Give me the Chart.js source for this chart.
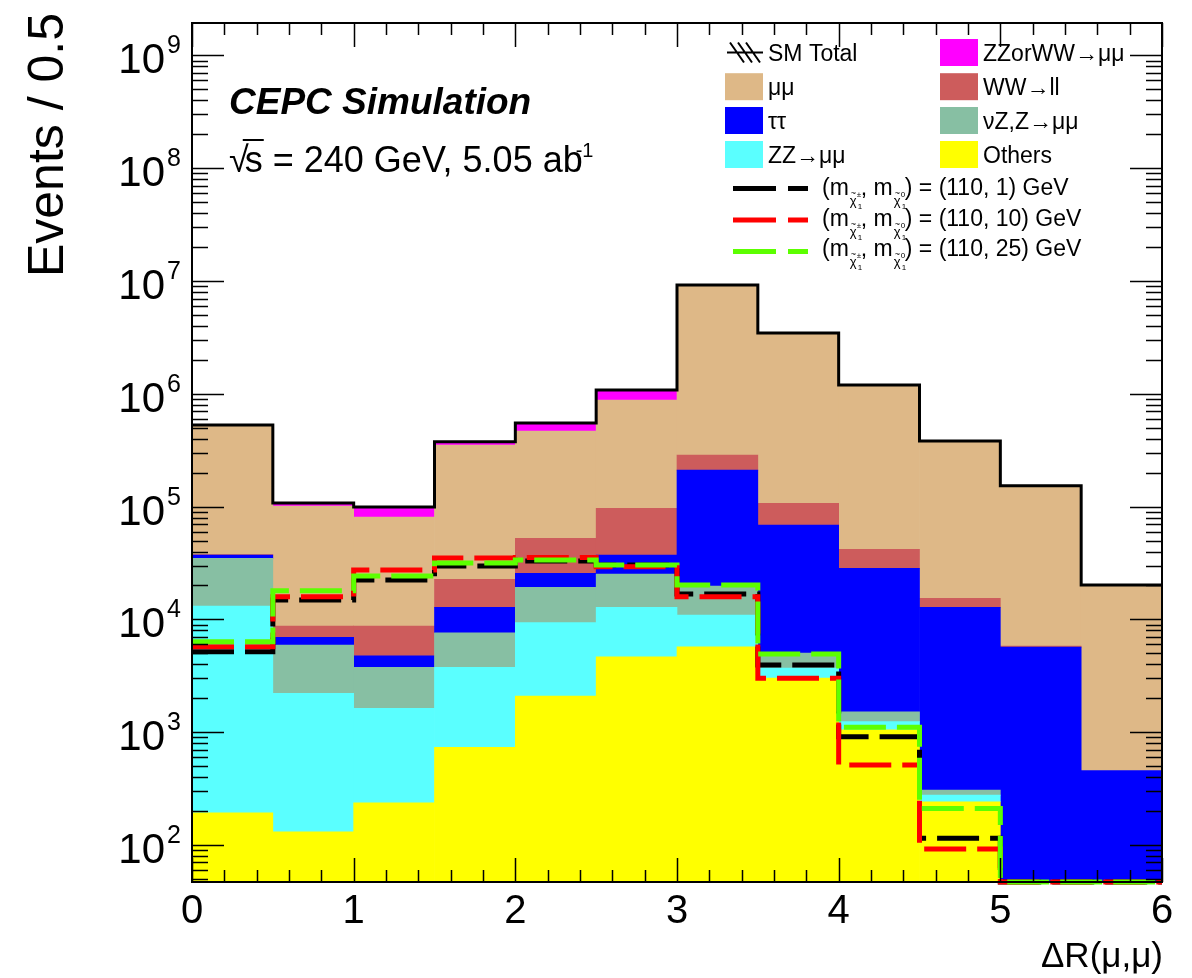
<!DOCTYPE html>
<html>
<head>
<meta charset="utf-8">
<title>Delta R(mu,mu)</title>
<script src="https://cdn.jsdelivr.net/npm/chart.js@4.4.0/dist/chart.umd.min.js"></script>
<style>
  html, body { margin: 0; padding: 0; background: #ffffff; }
  #wrap { width: 1192px; height: 978px; position: relative; }
</style>
</head>
<body>
<div id="wrap"><canvas id="drChart"></canvas></div>
<script>
// bin edges of Delta R(mu,mu), 0.5 wide
const binEdges = [0, 0.5, 1, 1.5, 2, 2.5, 3, 3.5, 4, 4.5, 5, 5.5, 6];
const xTickLabels = [0, 1, 2, 3, 4, 5, 6];
const yTickPowers = [2, 3, 4, 5, 6, 7, 8, 9];
const yMin = 47, yMax = 1.94e9;

// backgrounds, stacked bottom -> top
const others  = [193, 131, 237, 735, 2094, 4667, 5728, 3020, 1050, 242, 0, 0];
const zzMuMu  = [12960, 2082, 1392, 3025, 7261, 8123, 5212, 687, 190, 35, 0, 0];
const nuZ     = [21650, 3716, 2131, 3860, 9925, 12440, 8830, 1329, 280, 30, 0, 0];
const tautau  = [2440, 1006, 985, 5170, 6350, 12010, 191100, 63660, 26860, 12480, 5690, 456];
const wwLL    = [300, 1795, 3985, 9860, 26730, 59360, 75600, 38300, 13420, 2590, 100, 0];
const mumu    = [488500, 92470, 72170, 328950, 415340, 784700, 8940000, 3353000, 1155000, 366600, 147300, 19720];
const zzOrWW  = [2000, 6500, 18200, 24200, 83100, 199700, 10000, 4000, 1500, 400, 100, 10];
const smTotal = [529000, 107700, 99100, 375800, 550800, 1081000, 9230000, 3460000, 1197000, 382000, 153100, 20180];

// signals (m_chi1+-, m_chi10)
const sig110_1  = [5173, 14900, 22330, 29720, 32970, 30400, 16790, 3945, 913, 115, 0, 0];
const sig110_10 = [5728, 15900, 27400, 35000, 35400, 29300, 15890, 3006, 512, 92, 0, 0];
const sig110_25 = [6340, 18000, 24270, 31620, 33650, 30400, 20180, 4934, 1105, 211, 0, 0];

const FONT = "'Liberation Sans', Arial, Helvetica, sans-serif";

const binCenters = binEdges.slice(0, -1).map((e, i) => (e + binEdges[i + 1]) / 2);

function barData(vals) {
    return vals.map((v, i) => ({ x: binCenters[i], y: v }));
}

// histogram outline: one point per left edge, last value repeated at the right edge.
// empty bins sit on the axis floor like ROOT does (log scale drops zeros otherwise)
function stepData(vals) {
    const pts = vals.map((v, i) => ({ x: binEdges[i], y: Math.max(v, yMin) }));
    pts.push({ x: binEdges[vals.length], y: Math.max(vals[vals.length - 1], yMin) });
    return pts;
}

function bgSet(label, vals, color) {
    return {
        type: 'bar', label: label, data: barData(vals), stack: 'bg',
        backgroundColor: color, borderWidth: 0,
        barPercentage: 1.0, categoryPercentage: 1.0, order: 10
    };
}

function lineSet(label, vals, color, width, dash, order) {
    return {
        type: 'line', label: label, data: stepData(vals), stack: label,
        borderColor: color, borderWidth: width, borderDash: dash,
        borderCapStyle: 'butt', borderJoinStyle: 'miter',
        stepped: true, fill: false, pointRadius: 0, tension: 0, order: order,
        clip: 6
    };
}

const colMuMu = '#DEB887', colWW = '#CD5C5C', colTau = '#0000FF', colNuZ = '#87BFA3',
      colZZ = '#5AFFFF', colOthers = '#FFFF00', colZZorWW = '#FF00FF',
      colSig1 = '#000000', colSig10 = '#FF0000', colSig25 = '#5CFF00';

const datasets = [
    bgSet('Others', others, colOthers),
    bgSet('ZZ→μμ', zzMuMu, colZZ),
    bgSet('νZ,Z→μμ', nuZ, colNuZ),
    bgSet('ττ', tautau, colTau),
    bgSet('WW→ll', wwLL, colWW),
    bgSet('μμ', mumu, colMuMu),
    bgSet('ZZorWW→μμ', zzOrWW, colZZorWW),
    lineSet('SM Total', smTotal, '#000000', 3, [], -1),
    lineSet('(110, 1) GeV', sig110_1, colSig1, 5, [42, 11], -2),
    lineSet('(110, 10) GeV', sig110_10, colSig10, 5, [42, 11], -3),
    lineSet('(110, 25) GeV', sig110_25, colSig25, 5, [42, 11], -4)
];

// small chi-tilde subscript with a sup/sub index
function drawChi(ctx, x, base, sup) {
    ctx.font = '13px ' + FONT;
    ctx.fillText('χ', x, base + 10);
    ctx.font = '9px ' + FONT;
    ctx.fillText('~', x + 1, base + 1);
    ctx.font = '8px ' + FONT;
    ctx.fillText(sup, x + 7, base + 2);
    ctx.fillText('1', x + 8, base + 14);
}

function drawSignalText(ctx, x, base, tail) {
    ctx.font = '23px ' + FONT;
    ctx.fillText('(m', x, base);
    let cx = x + ctx.measureText('(m').width + 1;
    drawChi(ctx, cx, base, '±');
    cx += 11;
    ctx.font = '23px ' + FONT;
    ctx.fillText(', m', cx, base);
    cx += ctx.measureText(', m').width + 1;
    drawChi(ctx, cx, base, '0');
    cx += 11;
    ctx.font = '23px ' + FONT;
    ctx.fillText(') = ' + tail, cx, base);
}

const rootStyle = {
    id: 'rootStyle',
    afterDraw(chart) {
        const ctx = chart.ctx;
        const area = chart.chartArea;
        const xs = chart.scales.x, ys = chart.scales.y;
        ctx.save();

        // ticks inside the frame
        ctx.strokeStyle = '#000';
        ctx.lineWidth = 1.5;
        ctx.beginPath();
        for (let k = 0; k <= 30; k++) {
            const px = Math.round(xs.getPixelForValue(k * 0.2)) + 0.5;
            const len = k % 5 === 0 ? 24 : 12;
            ctx.moveTo(px, area.bottom); ctx.lineTo(px, area.bottom - len);
            ctx.moveTo(px, area.top); ctx.lineTo(px, area.top + len);
        }
        for (let d = 1; d <= 9; d++) {
            for (let m = 1; m <= 9; m++) {
                const v = m * Math.pow(10, d);
                if (v < ys.min || v > ys.max) continue;
                const py = Math.round(ys.getPixelForValue(v)) + 0.5;
                const len = m === 1 ? 32 : 16;
                ctx.moveTo(area.left, py); ctx.lineTo(area.left + len, py);
                ctx.moveTo(area.right, py); ctx.lineTo(area.right - len, py);
            }
        }
        ctx.stroke();

        // frame
        ctx.lineWidth = 2;
        ctx.strokeRect(area.left, area.top, area.right - area.left, area.bottom - area.top);

        ctx.fillStyle = '#000';
        ctx.textBaseline = 'alphabetic';

        // y tick labels 10^n
        yTickPowers.forEach(p => {
            const py = ys.getPixelForValue(Math.pow(10, p));
            ctx.font = '42px ' + FONT;
            ctx.textAlign = 'right';
            ctx.fillText('10', 165, py + 18);
            ctx.font = '25px ' + FONT;
            ctx.textAlign = 'left';
            ctx.fillText(String(p), 167, py - 2);
        });

        // x tick labels
        ctx.font = '40px ' + FONT;
        ctx.textAlign = 'center';
        xTickLabels.forEach(v => {
            ctx.fillText(String(v), xs.getPixelForValue(v), 923);
        });

        // axis titles
        ctx.font = '35px ' + FONT;
        ctx.textAlign = 'right';
        ctx.fillText('ΔR(μ,μ)', 1163, 967);

        ctx.save();
        ctx.translate(63, 13);
        ctx.rotate(-Math.PI / 2);
        ctx.font = '50px ' + FONT;
        ctx.textAlign = 'right';
        ctx.fillText('Events / 0.5', 0, 0);
        ctx.restore();

        // labels
        ctx.textAlign = 'left';
        ctx.font = 'italic bold 37px ' + FONT;
        ctx.fillText('CEPC Simulation', 229, 114);

        ctx.font = '36px ' + FONT;
        ctx.fillText('√', 229, 172);
        let tx = 229 + ctx.measureText('√').width - 4;
        ctx.fillText('s', tx, 172);
        const sW = ctx.measureText('s').width;
        ctx.lineWidth = 2;
        ctx.beginPath();
        ctx.moveTo(tx - 2, 140); ctx.lineTo(tx + sW + 1, 140);
        ctx.stroke();
        tx += sW;
        const rest = ' = 240 GeV, 5.05 ab';
        ctx.fillText(rest, tx, 172);
        tx += ctx.measureText(rest).width;
        ctx.font = '20px ' + FONT;
        ctx.fillText('-1', tx - 7, 157);

        // legend
        ctx.font = '23px ' + FONT;
        const leftBox = 725, rightBox = 940, boxW = 38, boxH = 27;
        const rowsLeft = [
            { y: 52.5, color: null, text: 'SM Total' },
            { y: 86.7, color: colMuMu, text: 'μμ' },
            { y: 120.5, color: colTau, text: 'ττ' },
            { y: 154.5, color: colZZ, text: 'ZZ→μμ' }
        ];
        const rowsRight = [
            { y: 52.5, color: colZZorWW, text: 'ZZorWW→μμ' },
            { y: 86.7, color: colWW, text: 'WW→ll' },
            { y: 120.5, color: colNuZ, text: 'νZ,Z→μμ' },
            { y: 154.5, color: colOthers, text: 'Others' }
        ];
        [[rowsLeft, leftBox], [rowsRight, rightBox]].forEach(([rows, bx]) => {
            rows.forEach(r => {
                if (r.color) {
                    ctx.fillStyle = r.color;
                    ctx.fillRect(bx, r.y - boxH / 2, boxW, boxH);
                } else {
                    ctx.strokeStyle = '#000';
                    ctx.lineWidth = 2;
                    ctx.beginPath();
                    ctx.moveTo(bx + 2, r.y); ctx.lineTo(bx + boxW, r.y);
                    for (let h = 0; h < 3; h++) {
                        ctx.moveTo(bx + 5 + h * 8, r.y - 10);
                        ctx.lineTo(bx + 19 + h * 8, r.y + 10);
                    }
                    ctx.stroke();
                }
                ctx.fillStyle = '#000';
                ctx.font = '23px ' + FONT;
                ctx.fillText(r.text, bx + boxW + 5, r.y + 8);
            });
        });

        const sigRows = [
            { y: 188.5, base: 195, color: colSig1, tail: '(110, 1) GeV' },
            { y: 220, base: 225.5, color: colSig10, tail: '(110, 10) GeV' },
            { y: 251.5, base: 255.5, color: colSig25, tail: '(110, 25) GeV' }
        ];
        sigRows.forEach(r => {
            ctx.strokeStyle = r.color;
            ctx.lineWidth = 5;
            ctx.setLineDash([43, 12]);
            ctx.beginPath();
            ctx.moveTo(733, r.y); ctx.lineTo(808, r.y);
            ctx.stroke();
            ctx.setLineDash([]);
            ctx.fillStyle = '#000';
            drawSignalText(ctx, 822, r.base, r.tail);
        });

        ctx.restore();
    }
};

const ctx = document.getElementById('drChart');

new Chart(ctx, {
    type: 'bar',
    data: { datasets: datasets },
    options: {
        responsive: true,
        maintainAspectRatio: false,
        animation: false,
        events: [],
        layout: { padding: { left: 192, right: 30, top: 23, bottom: 96 } },
        scales: {
            x: {
                type: 'linear', display: false, min: 0, max: 6,
                offset: false, ticks: { stepSize: 1 }
            },
            y: {
                type: 'logarithmic', display: false, stacked: true,
                min: yMin, max: yMax
            }
        },
        plugins: {
            legend: { display: false },
            tooltip: { enabled: false }
        }
    },
    plugins: [rootStyle]
});
</script>
</body>
</html>
